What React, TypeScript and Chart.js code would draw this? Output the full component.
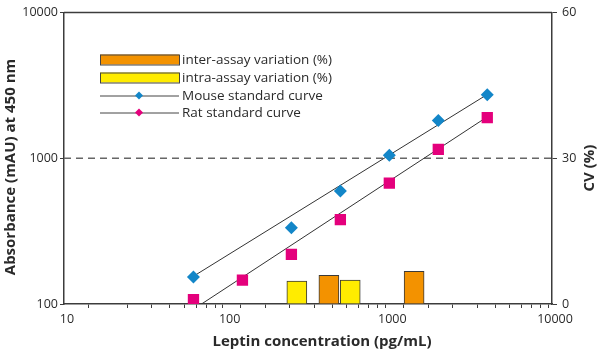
import React, { useEffect, useRef } from 'react';
import { Chart, registerables } from 'chart.js';

Chart.register(...registerables);

// ---------- data ----------
const mouseConc = [62.5, 250, 500, 1000, 2000, 4000];
const mouseAbs = [153, 334, 597, 1050, 1814, 2724];
const ratConc = [62.5, 125, 250, 500, 1000, 2000, 4000];
const ratAbs = [107, 146, 219, 379, 676, 1152, 1900];
const mouseFitConc = [62.5, 4000];
const mouseFitAbs = [155, 2740];
const ratFitConc = [62.5, 4000];
const ratFitAbs = [92, 1924];
const interConc = [425, 1420];
const interCV = [5.9, 6.7];
const intraConc = [270, 575];
const intraCV = [4.7, 4.9];
const refLineConc = [10, 10000];
const refLineAbs = [1000, 1000];
const xTickLabels = [10, 100, 1000, 10000];
const yTickLabels = [100, 1000, 10000];
const cvTicks = [0, 30, 60];
const legendLabels = [
  'inter-assay variation (%)',
  'intra-assay variation (%)',
  'Mouse standard curve',
  'Rat standard curve',
];
const xTitle = 'Leptin concentration (pg/mL)';
const yTitle = 'Absorbance (mAU) at 450 nm';
const y2Title = 'CV (%)';

// ---------- styles ----------
const BLUE = '#1386c8';
const PINK = '#e4007c';
const ORANGE = '#f39200';
const YELLOW = '#ffec00';
const AXIS = '#3c3c3c';
const TEXT = '#2a2a2a';
const FONT = '"Open Sans", "DejaVu Sans", sans-serif';

const pts = (xs: number[], ys: number[]) => xs.map((x, i) => ({ x, y: ys[i] }));
const isPow10 = (v: number) => Math.abs(Math.log10(v) - Math.round(Math.log10(v))) < 1e-9;

const decorPlugin = {
  id: 'decor',
  afterDraw(chart: any) {
    const { ctx, chartArea: a, width } = chart;
    ctx.save();
    // top frame line
    ctx.strokeStyle = AXIS;
    ctx.lineWidth = 1.5;
    ctx.beginPath();
    ctx.moveTo(a.left, a.top);
    ctx.lineTo(a.right, a.top);
    ctx.stroke();

    // legend
    const lx = a.left + 36;
    const lw = 79;
    const tx = a.left + 118;
    const rows = [a.top + 47, a.top + 65, a.top + 83, a.top + 100];
    ctx.font = `13.5px ${FONT}`;
    ctx.fillStyle = TEXT;
    ctx.textBaseline = 'middle';
    ctx.textAlign = 'left';
    const fills = [ORANGE, YELLOW];
    for (let i = 0; i < 2; i++) {
      ctx.fillStyle = fills[i];
      ctx.fillRect(lx, rows[i] - 5, lw, 10);
      ctx.strokeStyle = '#444';
      ctx.lineWidth = 1;
      ctx.strokeRect(lx + 0.5, rows[i] - 4.5, lw, 10);
    }
    const marks = [BLUE, PINK];
    for (let i = 0; i < 2; i++) {
      const y = rows[i + 2];
      ctx.strokeStyle = '#444';
      ctx.lineWidth = 1;
      ctx.beginPath();
      ctx.moveTo(lx, y + 0.5);
      ctx.lineTo(lx + lw, y + 0.5);
      ctx.stroke();
      ctx.fillStyle = marks[i];
      const cx = lx + 39;
      const r = 4;
      ctx.beginPath();
      ctx.moveTo(cx, y - r);
      ctx.lineTo(cx + r, y);
      ctx.lineTo(cx, y + r);
      ctx.lineTo(cx - r, y);
      ctx.closePath();
      ctx.fill();
    }
    ctx.fillStyle = TEXT;
    legendLabels.forEach((t, i) => ctx.fillText(t, tx, rows[i] + 0.5));

    // axis titles
    ctx.font = `bold 15px ${FONT}`;
    ctx.fillStyle = TEXT;
    ctx.textAlign = 'center';
    ctx.textBaseline = 'middle';
    ctx.fillText(xTitle, 322, 342);

    ctx.save();
    ctx.translate(11, 167);
    ctx.rotate(-Math.PI / 2);
    ctx.fillText(yTitle, 0, 0);
    ctx.restore();

    ctx.save();
    ctx.translate(width - 10, 168);
    ctx.rotate(-Math.PI / 2);
    ctx.fillText(y2Title, 0, 0);
    ctx.restore();

    ctx.restore();
  },
};

export default function App() {
  const ref = useRef<HTMLCanvasElement | null>(null);

  useEffect(() => {
    document.body.style.margin = '0';
    const canvas = ref.current;
    if (!canvas) return;
    const tickFont = { family: FONT, size: 12.5 };
    const chart = new Chart(canvas, {
      type: 'line',
      data: {
        datasets: [
          {
            type: 'line',
            label: 'Mouse',
            data: pts(mouseConc, mouseAbs),
            showLine: false,
            pointStyle: 'rectRot',
            pointRadius: 6.5,
            backgroundColor: BLUE,
            borderColor: BLUE,
            borderWidth: 0,
            xAxisID: 'x',
            yAxisID: 'y',
            order: 0,
          },
          {
            type: 'line',
            label: 'Rat',
            data: pts(ratConc, ratAbs),
            showLine: false,
            pointStyle: 'rect',
            pointRadius: 8,
            backgroundColor: PINK,
            borderColor: PINK,
            borderWidth: 0,
            xAxisID: 'x',
            yAxisID: 'y',
            order: 0,
          },
          {
            type: 'line',
            label: 'Mouse fit',
            data: pts(mouseFitConc, mouseFitAbs),
            borderColor: '#333',
            borderWidth: 1,
            pointRadius: 0,
            xAxisID: 'x',
            yAxisID: 'y',
            order: 1,
          },
          {
            type: 'line',
            label: 'Rat fit',
            data: pts(ratFitConc, ratFitAbs),
            borderColor: '#333',
            borderWidth: 1,
            pointRadius: 0,
            xAxisID: 'x',
            yAxisID: 'y',
            order: 1,
          },
          {
            type: 'line',
            label: 'ref',
            data: pts(refLineConc, refLineAbs),
            borderColor: '#666',
            borderWidth: 1.5,
            borderDash: [7, 5],
            pointRadius: 0,
            xAxisID: 'x',
            yAxisID: 'y',
            order: 2,
          },
          {
            type: 'bar',
            label: 'inter-assay',
            data: pts(interConc, interCV) as any,
            backgroundColor: ORANGE,
            borderColor: '#3a3a3a',
            borderWidth: 1,
            barThickness: 20,
            grouped: false,
            xAxisID: 'x',
            yAxisID: 'y2',
            order: 3,
          } as any,
          {
            type: 'bar',
            label: 'intra-assay',
            data: pts(intraConc, intraCV) as any,
            backgroundColor: YELLOW,
            borderColor: '#3a3a3a',
            borderWidth: 1,
            barThickness: 20,
            grouped: false,
            xAxisID: 'x',
            yAxisID: 'y2',
            order: 3,
          } as any,
        ],
      },
      options: {
        responsive: false,
        animation: false,
        layout: { padding: { top: 10, left: 0, right: 0, bottom: 0 } },
        plugins: { legend: { display: false }, tooltip: { enabled: false } },
        scales: {
          x: {
            type: 'logarithmic',
            min: 10,
            max: 10000,
            position: 'bottom',
            grid: { drawOnChartArea: false, drawTicks: true, tickLength: 4, color: AXIS, tickColor: AXIS, lineWidth: 1 },
            border: { display: true, color: AXIS, width: 1.5 },
            ticks: {
              autoSkip: false,
              maxRotation: 0,
              padding: 4,
              labelOffset: 3,
              color: TEXT,
              font: tickFont,
              callback: (v: any) => (xTickLabels.includes(Number(v)) || isPow10(Number(v)) ? String(Number(v)) : ''),
            },
            afterFit: (s: any) => { s.height = 49; },
          },
          y: {
            type: 'logarithmic',
            min: 100,
            max: 10000,
            position: 'left',
            grid: {
              drawOnChartArea: false,
              tickLength: 4,
              tickColor: (c: any) => (c.tick && isPow10(c.tick.value) ? AXIS : 'rgba(0,0,0,0)'),
            },
            border: { display: true, color: AXIS, width: 1.5 },
            ticks: {
              autoSkip: false,
              padding: 2,
              color: TEXT,
              font: tickFont,
              callback: (v: any) => (yTickLabels.includes(Number(v)) ? String(Number(v)) : ''),
            },
            afterFit: (s: any) => { s.width = 64; },
          },
          y2: {
            type: 'linear',
            min: cvTicks[0],
            max: cvTicks[cvTicks.length - 1],
            position: 'right',
            grid: { drawOnChartArea: false, tickLength: 5, tickColor: AXIS },
            border: { display: true, color: AXIS, width: 1.5 },
            ticks: {
              stepSize: cvTicks[1] - cvTicks[0],
              padding: 5,
              color: TEXT,
              font: tickFont,
            },
            afterFit: (s: any) => { s.width = 48; },
          },
        },
      } as any,
      plugins: [decorPlugin],
    });
    return () => chart.destroy();
  }, []);

  return (
    <div style={{ width: 600, height: 353, background: '#fff' }}>
      <canvas ref={ref} width={600} height={353} style={{ display: 'block' }} />
    </div>
  );
}
